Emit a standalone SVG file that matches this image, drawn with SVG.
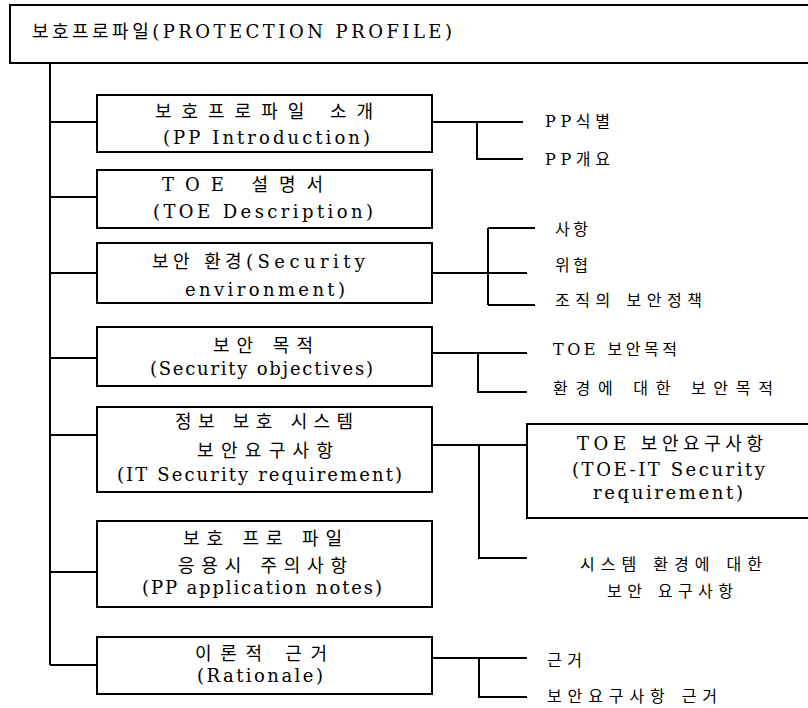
<svg xmlns="http://www.w3.org/2000/svg" width="808" height="708" viewBox="0 0 808 708">
<style>
  .bx { fill: #ffffff; stroke: #000; stroke-width: 2; }
  .ln { fill: none; stroke: #000; stroke-width: 2; }
  text { font-family: "DejaVu Serif", "Noto Sans CJK KR", serif; fill: #000; }
  .t { font-size: 18px; }
  .ttl { font-size: 18px; }
  .lb { font-size: 16px; }
</style>
<rect width="808" height="708" fill="#ffffff"/>
<g id="connectors">
  <path class="ln" d="M50,63 V665"/>
  <path class="ln" d="M50,122 H97 M50,197 H97 M50,273 H97 M50,358 H97 M50,435 H97 M50,572 H97 M50,665 H97"/>
  <path class="ln" d="M432,122 H523 M477,122 V159 H523"/>
  <path class="ln" d="M432,273 H527 M488,228 V305 M488,228 H535 M488,305 H535"/>
  <path class="ln" d="M432,353 H527 M478,353 V392 H527"/>
  <path class="ln" d="M432,445 H527 M479,445 V558 H527"/>
  <path class="ln" d="M432,658 H527 M479,658 V697 H527"/>
</g>
<g id="root">
  <path class="bx" d="M808,5 H10 V63 H808"/>
  <text class="ttl" x="32" y="38" textLength="420" lengthAdjust="spacing">보호프로파일(PROTECTION PROFILE)</text>
</g>
<g id="pp-intro">
  <rect class="bx" x="97" y="95" width="335" height="57"/>
  <text class="t" x="155" y="118" textLength="218" lengthAdjust="spacing">보호프로파일 소개</text>
  <text class="t" x="163" y="144" textLength="207" lengthAdjust="spacing">(PP Introduction)</text>
</g>
<g id="toe-desc">
  <rect class="bx" x="97" y="170" width="335" height="58"/>
  <text class="t" x="162" y="191" textLength="161" lengthAdjust="spacing">TOE 설명서</text>
  <text class="t" x="153" y="218" textLength="220" lengthAdjust="spacing">(TOE Description)</text>
</g>
<g id="sec-env">
  <rect class="bx" x="97" y="243" width="335" height="60"/>
  <text class="t" x="152" y="268" textLength="213" lengthAdjust="spacing">보안 환경(Security</text>
  <text class="t" x="185" y="296" textLength="160" lengthAdjust="spacing">environment)</text>
</g>
<g id="sec-obj">
  <rect class="bx" x="97" y="327" width="335" height="59"/>
  <text class="t" x="213" y="352" textLength="100" lengthAdjust="spacing">보안 목적</text>
  <text class="t" x="150" y="375" textLength="223" lengthAdjust="spacing">(Security objectives)</text>
</g>
<g id="it-sec-req">
  <rect class="bx" x="97" y="407" width="335" height="85"/>
  <text class="t" x="175" y="428" textLength="178" lengthAdjust="spacing">정보 보호 시스템</text>
  <text class="t" x="197" y="457" textLength="136" lengthAdjust="spacing">보안요구사항</text>
  <text class="t" x="117" y="481" textLength="285" lengthAdjust="spacing">(IT Security requirement)</text>
</g>
<g id="pp-notes">
  <rect class="bx" x="97" y="521" width="335" height="86"/>
  <text class="t" x="183" y="545" textLength="159" lengthAdjust="spacing">보호 프로 파일</text>
  <text class="t" x="178" y="572" textLength="169" lengthAdjust="spacing">응용시 주의사항</text>
  <text class="t" x="142" y="594" textLength="240" lengthAdjust="spacing">(PP application notes)</text>
</g>
<g id="rationale">
  <rect class="bx" x="97" y="637" width="335" height="57"/>
  <text class="t" x="195" y="660" textLength="132" lengthAdjust="spacing">이론적 근거</text>
  <text class="t" x="197" y="682" textLength="126" lengthAdjust="spacing">(Rationale)</text>
</g>
<g id="toe-sec-req">
  <path class="bx" d="M808,424 H527 V518 H808"/>
  <text class="t" x="577" y="450" textLength="186" lengthAdjust="spacing">TOE 보안요구사항</text>
  <text class="t" x="572" y="476" textLength="193" lengthAdjust="spacing">(TOE-IT Security</text>
  <text class="t" x="593" y="499" textLength="150" lengthAdjust="spacing">requirement)</text>
</g>
<g id="pp-id"><text class="lb" x="545" y="127" textLength="65" lengthAdjust="spacing">PP식별</text></g>
<g id="pp-overview"><text class="lb" x="545" y="165" textLength="65" lengthAdjust="spacing">PP개요</text></g>
<g id="assumptions"><text class="lb" x="555" y="235" textLength="33" lengthAdjust="spacing">사항</text></g>
<g id="threats"><text class="lb" x="555" y="271" textLength="33" lengthAdjust="spacing">위협</text></g>
<g id="org-policy"><text class="lb" x="555" y="306" textLength="147" lengthAdjust="spacing">조직의 보안정책</text></g>
<g id="toe-obj"><text class="lb" x="553" y="355" textLength="124" lengthAdjust="spacing">TOE 보안목적</text></g>
<g id="env-obj"><text class="lb" x="553" y="394" textLength="220" lengthAdjust="spacing">환경에 대한 보안목적</text></g>
<g id="env-req">
  <text class="lb" x="580" y="570" textLength="182" lengthAdjust="spacing">시스템 환경에 대한</text>
  <text class="lb" x="607" y="597" textLength="126" lengthAdjust="spacing">보안 요구사항</text>
</g>
<g id="basis"><text class="lb" x="547" y="666" textLength="35" lengthAdjust="spacing">근거</text></g>
<g id="req-basis"><text class="lb" x="547" y="702" textLength="170" lengthAdjust="spacing">보안요구사항 근거</text></g>
</svg>
